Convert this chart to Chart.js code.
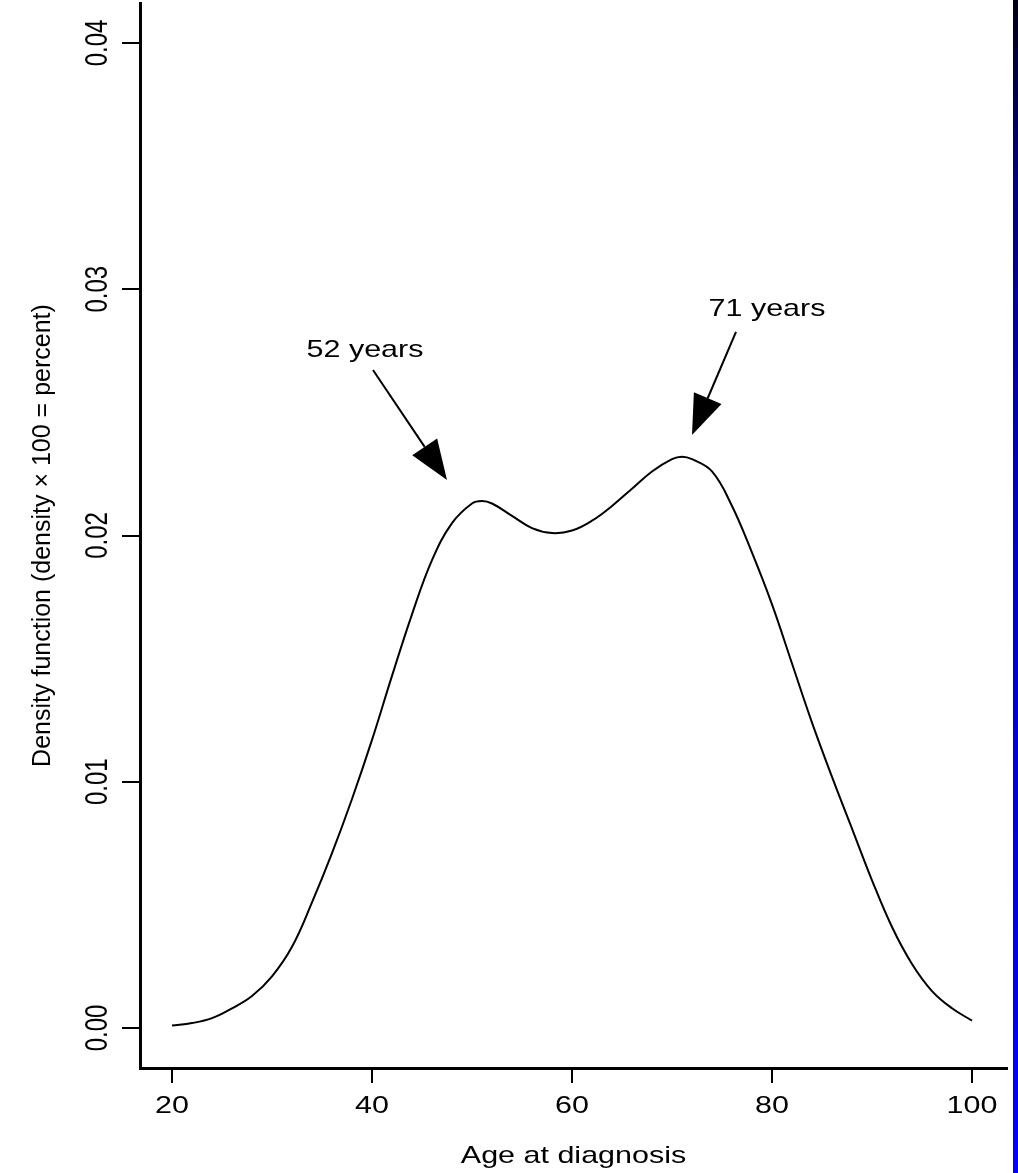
<!DOCTYPE html>
<html>
<head>
<meta charset="utf-8">
<script src="https://cdn.jsdelivr.net/npm/chart.js@4/dist/chart.umd.min.js"></script>
<style>
  html, body { margin: 0; padding: 0; background: #fff; }
  canvas { display: block; }
</style>
</head>
<body>
<canvas id="densityChart" width="1018" height="1173"></canvas>
<script>
// Age at diagnosis vs estimated density
const ages = [20, 22, 24, 26, 28, 30, 32, 34, 36, 38, 40, 42, 44, 46, 48, 50, 51, 52, 54, 56, 58,
              60, 62, 64, 66, 68, 70, 71, 72, 74, 76, 78, 80, 82, 84, 86, 88, 90, 92, 94, 96, 98, 100];
const density = [0.0001, 0.0002, 0.0004, 0.0008, 0.0013, 0.0021, 0.0033, 0.0051, 0.0071, 0.0093,
                 0.0117, 0.0143, 0.0168, 0.0190, 0.0205, 0.0213, 0.0214, 0.0213, 0.0208, 0.0203,
                 0.0201, 0.0202, 0.0206, 0.0212, 0.0219, 0.0226, 0.0231, 0.0232, 0.0231, 0.0226,
                 0.0212, 0.0193, 0.0172, 0.0148, 0.0124, 0.0102, 0.0081, 0.0060, 0.0041, 0.0026,
                 0.0015, 0.0008, 0.0003];

const xTicks = [20, 40, 60, 80, 100];
const yTicks = [0, 0.01, 0.02, 0.03, 0.04];

// peak annotations (data units)
const peakLabels = ['52 years', '71 years'];
const labelAt = [[39.3, 0.02725], [79.5, 0.02891]];
const arrowFrom = [[40.1, 0.02672], [76.4, 0.02827]];
const arrowTo = [[47.5, 0.02225], [72.0, 0.02408]];

const FONT = '24px "Liberation Sans", Arial, Helvetica, sans-serif';
const TITLE_FONT_V = '25px "Liberation Sans", Arial, Helvetica, sans-serif';
const STRETCH = 1.27; // the original figure is stretched horizontally

function stretchedText(ctx, text, x, y, vertical, sx) {
    ctx.save();
    ctx.translate(x, y);
    ctx.scale(sx || STRETCH, 1);
    if (vertical) ctx.rotate(-Math.PI / 2);
    ctx.fillText(text, 0, 0);
    ctx.restore();
}

const textPlugin = {
    id: 'rText',
    beforeDraw(chart) {
        const ctx = chart.ctx;
        // blue strip on the right edge
        const g = ctx.createLinearGradient(0, 0, 0, chart.height);
        g.addColorStop(0, '#000014');
        g.addColorStop(0.15, '#00007a');
        g.addColorStop(0.45, '#0000c4');
        g.addColorStop(1, '#0000ff');
        ctx.save();
        ctx.fillStyle = g;
        ctx.fillRect(1013, 0, 5, chart.height);
        ctx.restore();
    },
    afterDraw(chart) {
        const ctx = chart.ctx;
        const xs = chart.scales.x;
        const ys = chart.scales.y;
        const area = chart.chartArea;
        ctx.save();
        ctx.fillStyle = '#000';
        ctx.font = FONT;
        ctx.textAlign = 'center';
        ctx.textBaseline = 'alphabetic';

        // tick labels
        xs.ticks.forEach(t => {
            stretchedText(ctx, String(t.value), xs.getPixelForValue(t.value), area.bottom + 45, false);
        });
        ys.ticks.forEach(t => {
            stretchedText(ctx, t.value.toFixed(2), area.left - 33, ys.getPixelForValue(t.value), true);
        });

        // axis titles
        stretchedText(ctx, 'Age at diagnosis', (area.left + area.right) / 2, area.bottom + 95, false);
        ctx.font = TITLE_FONT_V;
        stretchedText(ctx, 'Density function (density \u00d7 100 = percent)',
            area.left - 90, (area.top + area.bottom) / 2, true, 1);
        ctx.font = FONT;

        // peak labels and arrows
        peakLabels.forEach((txt, i) => {
            stretchedText(ctx, txt, xs.getPixelForValue(labelAt[i][0]), ys.getPixelForValue(labelAt[i][1]), false);

            const x1 = xs.getPixelForValue(arrowFrom[i][0]);
            const y1 = ys.getPixelForValue(arrowFrom[i][1]);
            const x2 = xs.getPixelForValue(arrowTo[i][0]);
            const y2 = ys.getPixelForValue(arrowTo[i][1]);
            const len = Math.hypot(x2 - x1, y2 - y1);
            const ux = (x2 - x1) / len, uy = (y2 - y1) / len;
            const headLen = 40, headHalf = 15;
            const bx = x2 - ux * headLen, by = y2 - uy * headLen;

            ctx.strokeStyle = '#000';
            ctx.lineWidth = 2;
            ctx.beginPath();
            ctx.moveTo(x1, y1);
            ctx.lineTo(bx, by);
            ctx.stroke();

            ctx.beginPath();
            ctx.moveTo(x2, y2);
            ctx.lineTo(bx - uy * headHalf, by + ux * headHalf);
            ctx.lineTo(bx + uy * headHalf, by - ux * headHalf);
            ctx.closePath();
            ctx.fill();
        });
        ctx.restore();
    }
};

new Chart(document.getElementById('densityChart').getContext('2d'), {
    type: 'line',
    data: {
        datasets: [{
            data: ages.map((a, i) => ({ x: a, y: density[i] })),
            borderColor: '#000',
            borderWidth: 2,
            pointRadius: 0,
            fill: false,
            tension: 0.4
        }]
    },
    options: {
        responsive: false,
        animation: false,
        devicePixelRatio: 1,
        layout: { padding: { top: 3, right: 11, left: 0, bottom: 0 } },
        plugins: {
            legend: { display: false },
            tooltip: { enabled: false }
        },
        scales: {
            x: {
                type: 'linear',
                min: 16.8,
                max: 103.5,
                afterBuildTicks: s => { s.ticks = xTicks.map(v => ({ value: v })); },
                afterFit: s => { s.height = 105; },
                ticks: { display: false },
                grid: { display: true, drawOnChartArea: false, drawTicks: true, tickLength: 15, color: '#000', lineWidth: 2 },
                border: { display: true, color: '#000', width: 3 }
            },
            y: {
                type: 'linear',
                min: -0.001624,
                max: 0.041624,
                afterBuildTicks: s => { s.ticks = yTicks.map(v => ({ value: v })); },
                afterFit: s => { s.width = 140; },
                ticks: { display: false },
                grid: { display: true, drawOnChartArea: false, drawTicks: true, tickLength: 18, color: '#000', lineWidth: 2 },
                border: { display: true, color: '#000', width: 3 }
            }
        }
    },
    plugins: [textPlugin]
});
</script>
</body>
</html>
